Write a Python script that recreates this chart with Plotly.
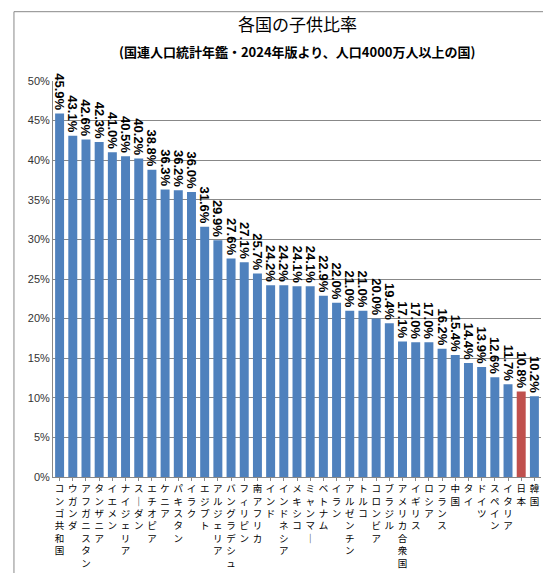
import plotly.graph_objects as go

countries = ["コンゴ共和国","ウガンダ","アフガニスタン","タンザニア","イエメン","ナイジェリア","スーダン","エチオピア",
             "ケニア","パキスタン","イラク","エジプト","アルジェリア","バングラデシュ","フィリピン","南アフリカ",
             "インド","インドネシア","メキシコ","ミャンマー","ベトナム","イラン","アルゼンチン","トルコ","コロンビア",
             "ブラジル","アメリカ合衆国","イギリス","ロシア","フランス","中国","タイ","ドイツ","スペイン","イタリア","日本","韓国"]
values = [45.9,43.1,42.6,42.3,41.0,40.5,40.2,38.8,36.3,36.2,36.0,31.6,29.9,27.6,27.1,25.7,24.2,24.2,24.1,24.1,
          22.9,22.0,21.0,21.0,20.0,19.4,17.1,17.0,17.0,16.2,15.4,14.4,13.9,12.6,11.7,10.8,10.2]
highlight = "日本"
title = "各国の子供比率"
subtitle = "(国連人口統計年鑑・2024年版より、人口4000万人以上の国)"

def vert(s):
    return "<br>".join("｜" if c == "ー" else c for c in s)

ticktext = [vert(c) for c in countries]
colors = ["#C0504D" if c == highlight else "#4F81BD" for c in countries]

fig = go.Figure(go.Bar(
    x=countries, y=values, marker=dict(color=colors, line=dict(width=0)),
    text=[f"{v:.1f}%" for v in values], textposition="outside", textangle=90,
    constraintext="none",
    textfont=dict(family="Liberation Sans", size=13, color="black", weight="bold"),
    cliponaxis=False, width=0.68,
))
fig.update_layout(
    width=551, height=573, paper_bgcolor="white", plot_bgcolor="white",
    margin=dict(l=45, r=18, t=73, b=104, autoexpand=False),
    showlegend=False,
    annotations=[
        dict(text=title, xref="paper", yref="paper", x=0.5, y=1.145, xanchor="center", yanchor="middle",
             showarrow=False, font=dict(family="Noto Sans CJK JP", size=17, color="black")),
        dict(text="<b>" + subtitle + "</b>", xref="paper", yref="paper", x=0.5, y=1.075, xanchor="center",
             yanchor="middle", showarrow=False, font=dict(family="Noto Sans CJK JP", size=13, color="black")),
    ],
    shapes=[dict(type="rect", xref="paper", yref="paper", x0=-0.08, x1=1.03, y0=-0.255, y1=1.175,
                 line=dict(color="#888", width=1))],
)
fig.update_xaxes(tickmode="array", tickvals=countries, ticktext=ticktext, tickangle=0, automargin=False,
                 tickfont=dict(family="Noto Sans CJK JP", size=9.5, color="black"),
                 showline=True, linecolor="#888", ticks="outside", ticklen=3, tickcolor="#888")
fig.update_yaxes(range=[0, 50], dtick=5, ticksuffix="%", showgrid=True, gridcolor="#888", automargin=False,
                 tickfont=dict(family="Liberation Sans", size=11, color="#333"),
                 showline=True, linecolor="#888", zeroline=False)
fig.write_html("out.html")
